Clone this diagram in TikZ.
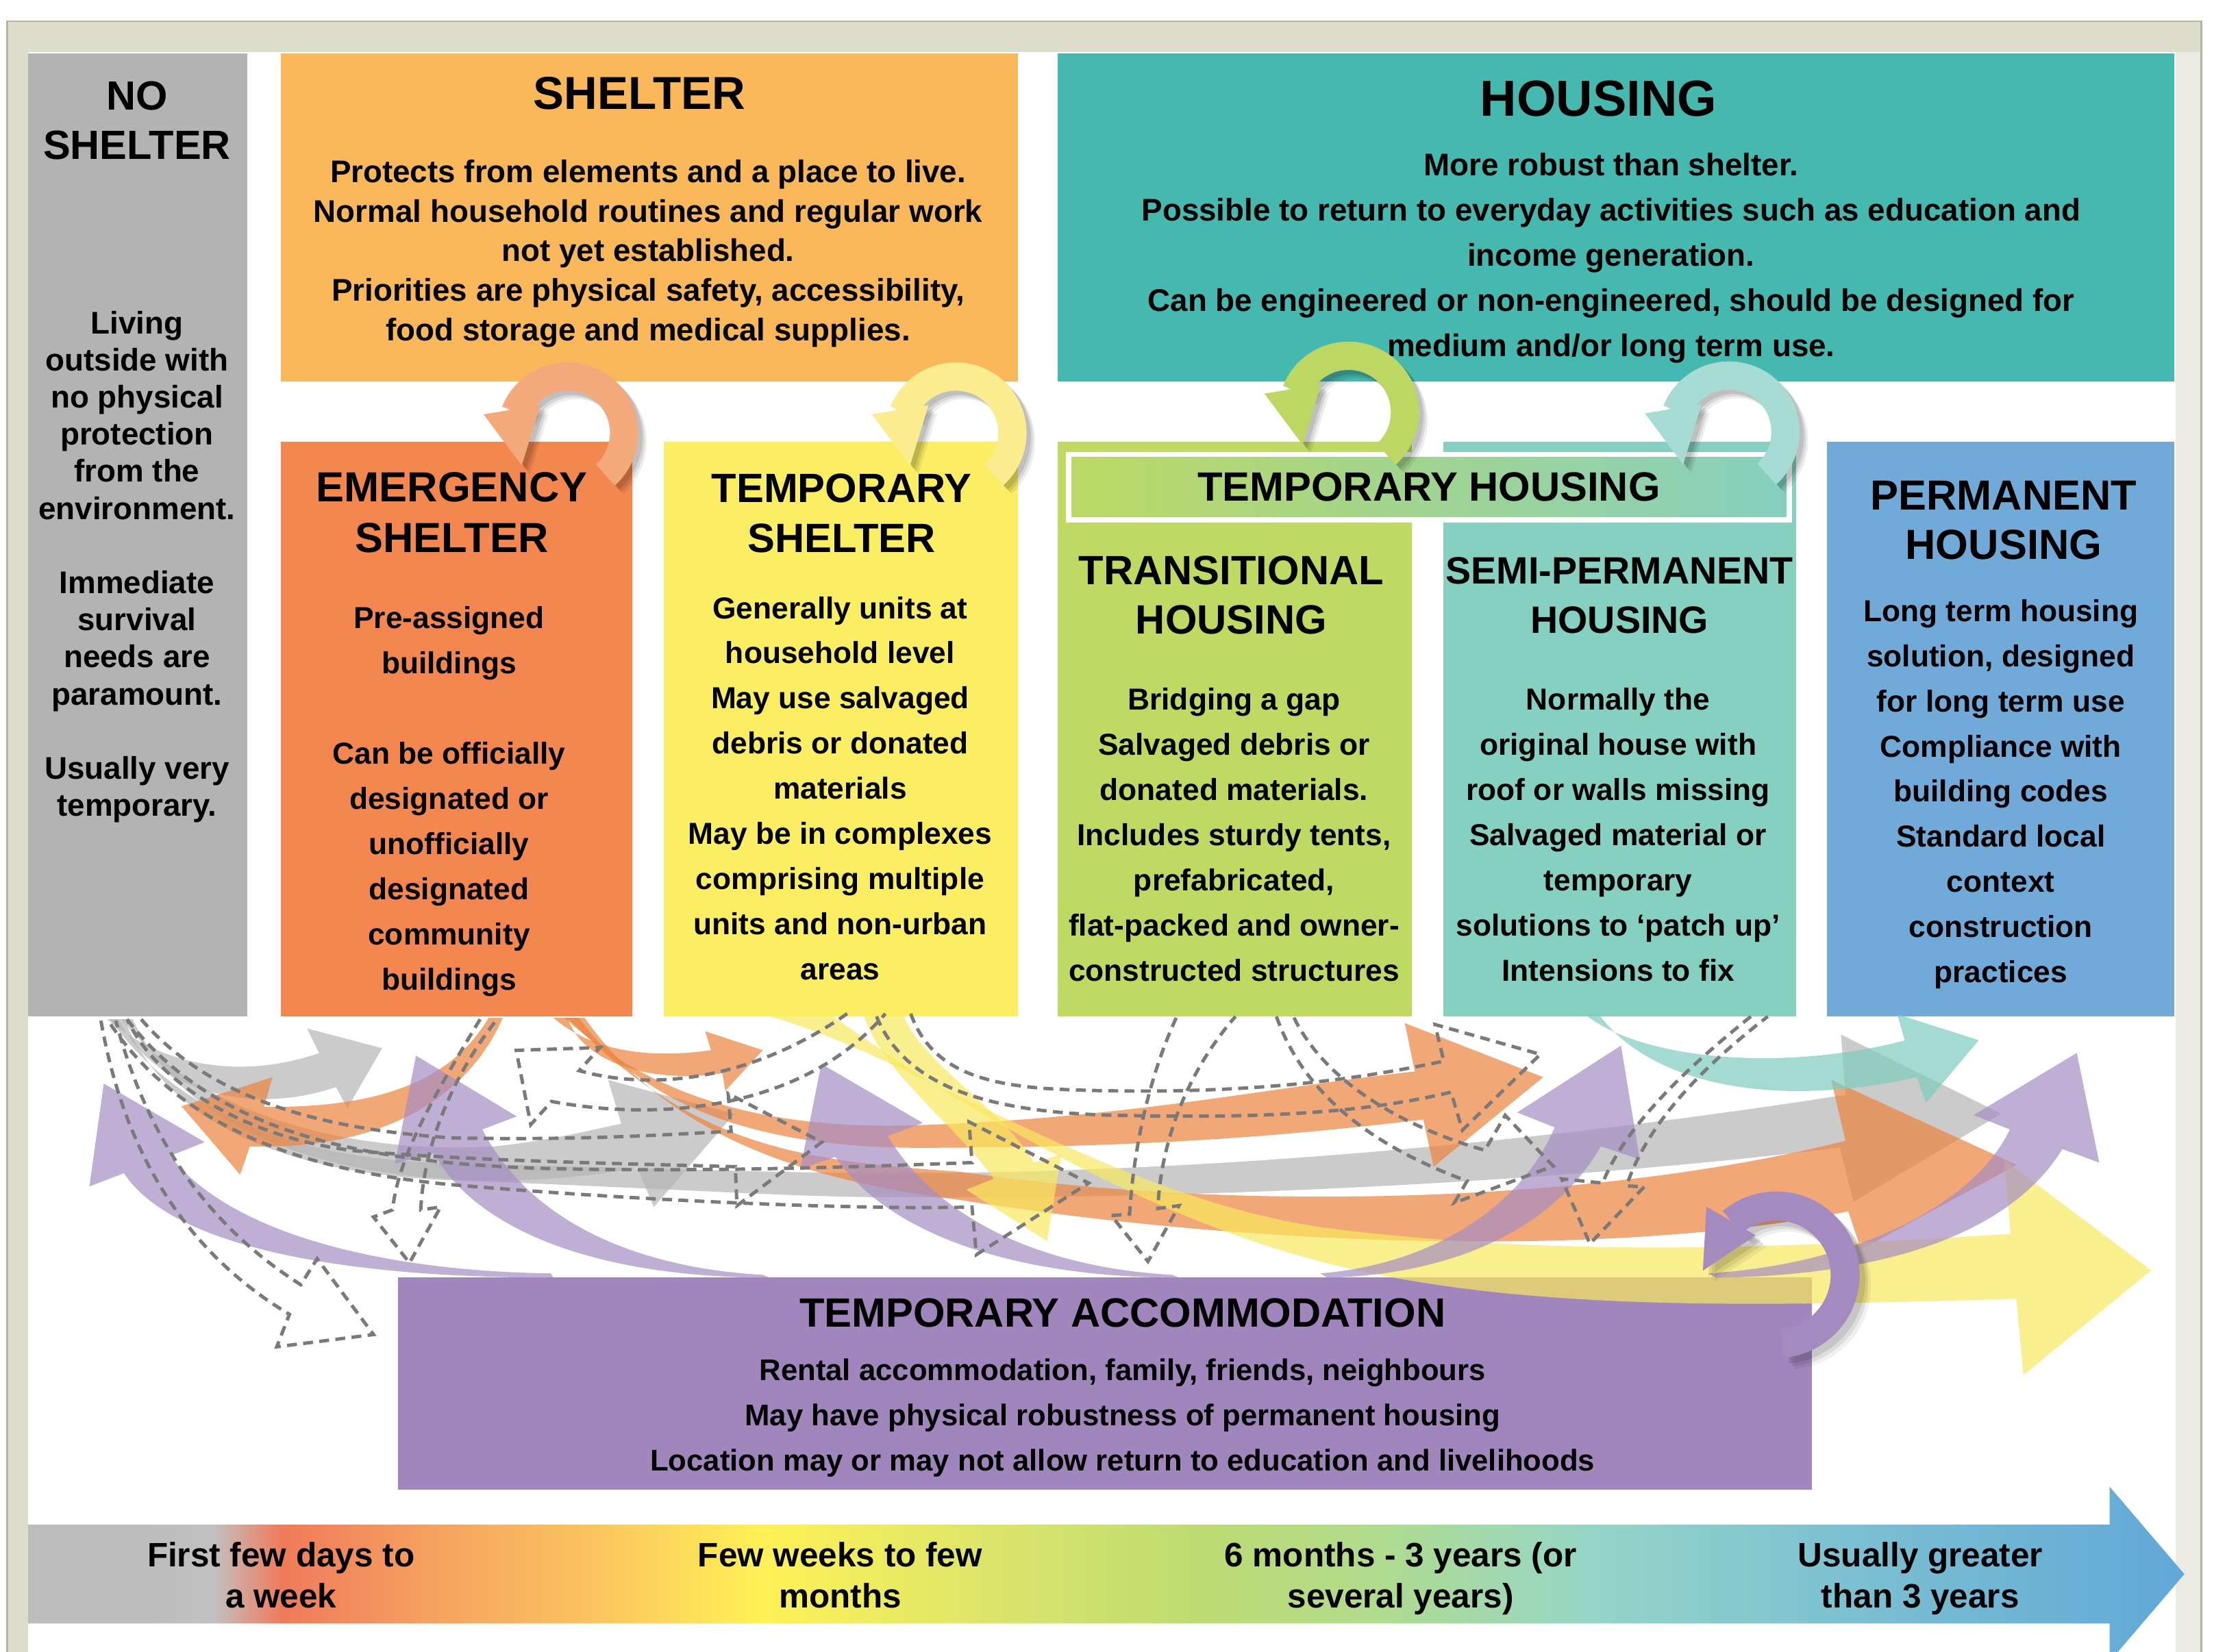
\documentclass[tikz,border=0pt]{standalone}
\usepackage{fontspec}
\setmainfont{Liberation Sans}
% box colours
\definecolor{nosh}{HTML}{B3B3B3}
\definecolor{shel}{HTML}{FAB85B}
\definecolor{hous}{HTML}{45B8AF}
\definecolor{emer}{HTML}{F4874F}
\definecolor{tshel}{HTML}{FBEE63}
\definecolor{trans}{HTML}{BEDA63}
\definecolor{semi}{HTML}{86D0C2}
\definecolor{perm}{HTML}{71A9D8}
\definecolor{tacc}{HTML}{A086BC}
\definecolor{thL}{HTML}{BBD964}
\definecolor{thR}{HTML}{86CFC0}
% frame
\definecolor{frameA}{HTML}{DCDDCB}
\definecolor{frameB}{HTML}{EBEBE4}
\definecolor{frameL}{HTML}{B4B7A0}
% transparent arrows
\definecolor{agray}{HTML}{B5B5B5}
\definecolor{aorange}{HTML}{EC833D}
\definecolor{apurple}{HTML}{A68EC4}
\definecolor{ayellow}{HTML}{F9E95F}
\definecolor{ateal}{HTML}{7DCDBF}
\definecolor{dgray}{HTML}{7A7A7A}
% loop arrows
\definecolor{lsalmon}{HTML}{F4A97B}
\definecolor{lyellow}{HTML}{FBEC8F}
\definecolor{lgreen}{HTML}{BDD862}
\definecolor{lteal}{HTML}{A6DCD4}
\definecolor{lpurple}{HTML}{A38BC0}
% time line
\definecolor{tlA}{HTML}{BDBDBD}
\definecolor{tlB}{HTML}{C2C0C0}
\definecolor{tlC}{HTML}{F07A5A}
\definecolor{tlD}{HTML}{F5A060}
\definecolor{tlE}{HTML}{FBC45F}
\definecolor{tlF}{HTML}{FFF155}
\definecolor{tlG}{HTML}{DCE56A}
\definecolor{tlH}{HTML}{BDDB72}
\definecolor{tlI}{HTML}{B0DC8F}
\definecolor{tlJ}{HTML}{94D5C8}
\definecolor{tlK}{HTML}{7EC1D1}
\definecolor{tlL}{HTML}{60A8D8}
\pgfdeclarehorizontalshading{timeline}{100bp}{color(0bp)=(tlA); color(25bp)=(tlA); color(27.6bp)=(tlA); color(29.3bp)=(tlB); color(30.9bp)=(tlC); color(34.2bp)=(tlD); color(38.1bp)=(tlE); color(42bp)=(tlF); color(47.3bp)=(tlG); color(52.2bp)=(tlH); color(56.4bp)=(tlI); color(61.3bp)=(tlJ); color(66.9bp)=(tlK); color(75bp)=(tlL); color(100bp)=(tlL)}

\tikzset{
  body/.style={inner sep=0pt, anchor=north, align=center, font=\bfseries\fontsize{21.5}{32}\selectfont},
  topbody/.style={body, font=\bfseries\fontsize{22.2}{32}\selectfont},
  head/.style={inner sep=0pt, anchor=north, align=center, font=\bfseries\fontsize{29}{35}\selectfont},
  ga/.style={fill=agray, fill opacity=0.7},
  oa/.style={fill=aorange, fill opacity=0.7},
  pa/.style={fill=apurple, fill opacity=0.7},
  ya/.style={fill=ayellow, fill opacity=0.7},
  ta/.style={fill=ateal, fill opacity=0.7},
  dsh/.style={draw=dgray, line width=2.4pt, dash pattern=on 7pt off 4.5pt},
}

% circular arrow looping from a lower box back into the box above
\newcommand\toploop[2]{%
  \begin{scope}[shift={#1}, yscale=-1]
    \foreach \sh/\op in {6/0.07,4.5/0.09,3/0.11}{%
      \fill[black, opacity=\op, shift={(\sh,-\sh)}] (-48:30) arc[start angle=-48, end angle=158, radius=30] -- (158:50) arc[start angle=158, end angle=-48, radius=50] -- cycle;
      \fill[black, opacity=\op, shift={(\sh,-\sh)}] (-59.5,13.2) -- (-32.5,-23) -- (-19.4,19.7) -- cycle;
    }
    \fill[#2] (-48:30) arc[start angle=-48, end angle=158, radius=30] -- (158:50) arc[start angle=158, end angle=-48, radius=50] -- cycle;
    \fill[#2] (-59.5,13.2) -- (-32.5,-23) -- (-19.4,19.7) -- cycle;
  \end{scope}}

\begin{document}
\begin{tikzpicture}[x=1pt, y=-1pt]
\useasboundingbox (0,0) rectangle (1568,1170);
\clip (0,0) rectangle (1568,1170);
\fill[white] (0,0) rectangle (1568,1170);

% outer frame
\fill[frameA] (5,15) rectangle (1559,1180);
\fill[frameB] (1541,37) rectangle (1559,1180);
\draw[frameL, line width=1.2pt] (5,1180) -- (5,15) -- (1559,15) -- (1559,1180);
\fill[white] (20,37) rectangle (1541,1180);

% category boxes
\fill[nosh] (20,38) rectangle (175,720);
\fill[shel] (199,38) rectangle (721,270);
\fill[hous] (749,38) rectangle (1540,270);
\fill[emer] (199,313) rectangle (448,720);
\fill[tshel] (470,313) rectangle (721,720);
\fill[trans] (749,313) rectangle (1000,720);
\fill[semi] (1022,313) rectangle (1272,720);
\fill[perm] (1294,313) rectangle (1540,720);
\fill[white] (755,320) rectangle (1269,370);
\shade[left color=thL, right color=thR] (759,324) rectangle (1265,366);
\fill[tacc] (282,905) rectangle (1283,1055);

% texts of the boxes
\node[head, font=\bfseries\fontsize{28.9}{35}\selectfont] (nsT) at (97,57.6) {NO\\SHELTER};
\node[body, font=\bfseries\fontsize{22.2}{26.3}\selectfont] (nsB) at (97,220)
  {Living\\outside with\\no physical\\protection\\from the\\environment.\\[26.3pt]Immediate\\survival\\needs are\\paramount.\\[26.3pt]Usually very\\temporary.};
\node[head, font=\bfseries\fontsize{32.7}{38}\selectfont] (shT) at (453,54.2) {SHELTER};
\node[body, font=\bfseries\fontsize{22.2}{28}\selectfont] (shB) at (459,113)
  {Protects from elements and a place to live.\\Normal household routines and regular work\\not yet established.\\Priorities are physical safety, accessibility,\\food storage and medical supplies.};
\node[head, font=\bfseries\fontsize{35.9}{40}\selectfont] (hoT) at (1132,57.1) {HOUSING};
\node[topbody] (hoB) at (1141,108)
  {More robust than shelter.\\Possible to return to everyday activities such as education and\\income generation.\\Can be engineered or non-engineered, should be designed for\\medium and/or long term use.};
\node[head, font=\bfseries\fontsize{29.8}{36}\selectfont] (emT) at (320,334.3) {EMERGENCY\\SHELTER};
\node[body] (emB) at (318,429.3)
  {Pre-assigned\\buildings\\[32pt]Can be officially\\designated or\\unofficially\\designated\\community\\buildings};
\node[head] (tsT) at (596,335.6) {TEMPORARY\\SHELTER};
\node[body] (tsB) at (595,422.3)
  {Generally units at\\household level\\May use salvaged\\debris or donated\\materials\\May be in complexes\\comprising multiple\\units and non-urban\\areas};
\node[head] (thT) at (1012,334.6) {TEMPORARY HOUSING};
\node[head] (trT) at (872,393.6) {TRANSITIONAL\\HOUSING};
\node[body] (trB) at (874,487.3)
  {Bridging a gap\\Salvaged debris or\\donated materials.\\Includes sturdy tents,\\prefabricated,\\flat-packed and owner-\\constructed structures};
\node[head, font=\bfseries\fontsize{27}{35}\selectfont] (spT) at (1147,394.3) {SEMI-PERMANENT\\HOUSING};
\node[body] (spB) at (1146,487.3)
  {Normally the\\original house with\\roof or walls missing\\Salvaged material or\\temporary\\solutions to ‘patch up’\\Intensions to fix};
\node[head, font=\bfseries\fontsize{29.8}{35}\selectfont] (pmT) at (1419,340.3) {PERMANENT\\HOUSING};
\node[body] (pmB) at (1417,424.3)
  {Long term housing\\solution, designed\\for long term use\\Compliance with\\building codes\\Standard local\\context\\construction\\practices};

% loops back into the box above
\toploop{(402,306.7)}{lsalmon}
\toploop{(677,306.7)}{lyellow}
\toploop{(955,292)}{lgreen}
\toploop{(1224.5,306)}{lteal}

% transparent transition arrows
\fill[ga] (76,722) .. controls (115,755) and (170,765) .. (226,746) -- (217.5,728.5) -- (270.6,742.5) -- (246,785) -- (238,770) .. controls (180,790) and (110,775) .. (84,722) -- cycle;
\fill[ga] (86,722) .. controls (140,790) and (250,818) .. (350,812) .. controls (390,808) and (420,800) .. (440,796) -- (430.7,765) -- (520,789) -- (463,855) -- (451.4,827) .. controls (420,833) and (390,836) .. (350,836) .. controls (230,836) and (130,800) .. (94,722) -- cycle;
\fill[ga] (78,722) .. controls (130,795) and (220,822) .. (320,824) .. controls (480,828) and (560,831) .. (630,831) .. controls (900,831) and (1150,800) .. (1307,775.5) -- (1303.8,732.8) -- (1417.3,788.9) -- (1312.6,851.3) -- (1303,812.9) .. controls (1150,832) and (900,850) .. (630,848) .. controls (560,848) and (480,842) .. (320,836) .. controls (210,832) and (120,800) .. (88,722) -- cycle;

\fill[oa] (346,721) .. controls (320,765) and (270,785) .. (187,784) -- (193,763) -- (128.6,783.6) -- (170,832) -- (177,812) .. controls (280,815) and (335,770) .. (356,721) -- cycle;
\fill[oa] (392,721) .. controls (420,745) and (460,750) .. (503.5,743.9) -- (499.4,730.5) -- (540.2,743.9) -- (513.7,772.6) -- (511.6,760.2) .. controls (460,768) and (412,752) .. (402,721) -- cycle;
\fill[oa] (400,721) .. controls (470,785) and (560,800) .. (650,797) .. controls (800,792) and (900,770) .. (1002,759) -- (994.9,724.7) -- (1092.9,763) -- (1015.3,826.4) -- (1008,793) .. controls (900,806) and (800,813) .. (650,813) .. controls (550,813) and (460,790) .. (410,721) -- cycle;
\fill[oa] (402,721) .. controls (490,810) and (560,822) .. (680,830) .. controls (900,862) and (1150,848) .. (1307,808) -- (1296.8,764.8) -- (1428.2,825.1) -- (1318,885) -- (1309,858) .. controls (1150,890) and (900,885) .. (680,850) .. controls (560,835) and (470,800) .. (414,721) -- cycle;

\fill[ya] (545,720) .. controls (640,745) and (790,850) .. (941,870) .. controls (1100,890) and (1250,885) .. (1424,874) -- (1419.3,821.6) -- (1523.4,899.8) -- (1433,974) -- (1428,920) .. controls (1250,925) and (1080,930) .. (941,895) .. controls (800,860) and (660,770) .. (590,720) -- cycle;
\fill[ya] (612,720) .. controls (625,760) and (680,800) .. (703.7,835) -- (684.3,842.7) -- (741.5,879.1) -- (751.7,817.7) -- (732.3,823.5) .. controls (710,785) and (655,755) .. (640,720) -- cycle;

\fill[ta] (1122,718) .. controls (1160,750) and (1260,760) .. (1349,737) -- (1343.6,718.4) -- (1401.4,736.8) -- (1364,781.3) -- (1357.5,763) .. controls (1260,785) and (1170,770) .. (1132,718) -- cycle;

\fill[pa] (390,902) .. controls (260,900) and (160,870) .. (120.5,818.7) -- (145,809) -- (73.5,767.5) -- (63.3,840.4) -- (87.8,831) .. controls (120,880) and (230,905) .. (392,905) -- cycle;
\fill[pa] (540,903) .. controls (450,898) and (375,865) .. (341.6,800) -- (366,790.8) -- (294.6,747.7) -- (279.7,824.2) -- (307,816.8) .. controls (340,875) and (430,905) .. (545,905) -- cycle;
\fill[pa] (830,903) .. controls (740,898) and (665,865) .. (628.7,804.7) -- (653.5,795.4) -- (581.7,753.6) -- (566.8,827.9) -- (591.6,819.5) .. controls (630,875) and (720,905) .. (835,905) -- cycle;
\fill[pa] (935,902) .. controls (1020,895) and (1080,850) .. (1101,798.5) -- (1074.5,788) -- (1148,740.6) -- (1161.3,821.2) -- (1133.8,812) .. controls (1100,870) and (1030,903) .. (940,905) -- cycle;
\fill[pa] (1210,902) .. controls (1320,895) and (1400,850) .. (1423.4,800) -- (1397.7,789.9) -- (1470.8,745.8) -- (1486.7,823.5) -- (1460.6,813.9) .. controls (1420,880) and (1320,904) .. (1215,905) -- cycle;

% dashed outline arrows
\draw[dsh] (71.5,723) .. controls (85,800) and (120,880) .. (205,931) -- (196,954) -- (264.5,945.3) -- (224.6,891.6) -- (213,910) .. controls (150,870) and (105,810) .. (82,723);
\draw[dsh] (340,722) .. controls (305,780) and (282,820) .. (278,857) -- (264.5,862) -- (290,894.5) -- (312,855) -- (298,857) .. controls (300,810) and (322,760) .. (352,722);
\draw[dsh] (600,718) .. controls (540,760) and (470,775) .. (410.2,758.4) -- (424.9,742) -- (365.6,744) -- (375.9,796.6) -- (390.6,780.2) .. controls (470,795) and (570,785) .. (627,718);
\draw[dsh] (100,722) .. controls (150,780) and (230,800) .. (320,806) .. controls (420,808) and (480,803) .. (517.8,801.4) -- (515.7,774.6) -- (582,809) -- (521.9,854) -- (520.8,826.4) .. controls (430,824) and (330,822) .. (250,815) .. controls (170,805) and (110,765) .. (90,722);
\draw[dsh] (645,718) .. controls (660,760) and (700,770) .. (760,772) .. controls (880,776) and (960,765) .. (1022.5,751.6) -- (1016.3,725.7) -- (1090.9,746.8) -- (1035.7,800.5) -- (1027.6,773.6) .. controls (960,790) and (880,792) .. (790,790) .. controls (700,788) and (640,770) .. (620,718);
\draw[dsh] (833,721) .. controls (815,760) and (803,810) .. (800,860) -- (787,861) -- (813,893.5) -- (835,854) -- (820,856) .. controls (822,810) and (840,760) .. (875,720);
\draw[dsh] (904,720) .. controls (925,780) and (980,815) .. (1039,836.5) -- (1030,852) -- (1100,826) -- (1066,790) -- (1051.6,814.8) .. controls (1000,800) and (940,770) .. (916,720);
\draw[dsh] (90,722) .. controls (150,800) and (250,825) .. (400,828) .. controls (520,830) and (620,826) .. (688.4,823.5) -- (686.3,794.7) -- (771,838) -- (691.5,888.7) -- (688.4,855) .. controls (600,857) and (450,850) .. (330,840) .. controls (200,830) and (120,790) .. (76,722);
\draw[dsh] (1240,720) .. controls (1190,760) and (1150,800) .. (1135,838) -- (1106,835) -- (1126,881) -- (1164.4,840.7) -- (1152,840) .. controls (1165,800) and (1200,760) .. (1252,720);

% loop on the temporary accommodation box
\begin{scope}[shift={(1258,903)}, yscale=-1]
  \foreach \sh/\op in {8/0.06,6/0.08,4/0.1}{%
    \fill[black, opacity=\op, shift={(\sh,-\sh)}] (-85:38.5) arc[start angle=-85, end angle=130, radius=38.5] -- (130:59) arc[start angle=130, end angle=-85, radius=59] -- cycle;
    \fill[black, opacity=\op, shift={(\sh,-\sh)}] (-49.5,48.2) -- (-52,3) -- (-14.6,28) -- cycle;
  }
  \fill[lpurple] (-85:38.5) arc[start angle=-85, end angle=130, radius=38.5] -- (130:59) arc[start angle=130, end angle=-85, radius=59] -- cycle;
  \fill[lpurple] (-49.5,48.2) -- (-52,3) -- (-14.6,28) -- cycle;
\end{scope}

\node[head] (taT) at (795,919.6) {TEMPORARY ACCOMMODATION};
\node[body, font=\bfseries\fontsize{21.2}{32}\selectfont] (taB) at (795,962.4)
  {Rental accommodation, family, friends, neighbours\\May have physical robustness of permanent housing\\Location may or may not allow return to education and livelihoods};

% time line
\shade[shading=timeline] (20,1080) -- (1494,1080) -- (1494,1053) -- (1547,1115) -- (1494,1177) -- (1494,1150) -- (20,1150) -- cycle;
\node[body, font=\bfseries\fontsize{24}{29}\selectfont] (tl1) at (199,1092.4) {First few days to\\a week};
\node[body, font=\bfseries\fontsize{24}{29}\selectfont] (tl2) at (595,1092.4) {Few weeks to few\\months};
\node[body, font=\bfseries\fontsize{24}{29}\selectfont] (tl3) at (992,1092.4) {6 months - 3 years (or\\several years)};
\node[body, font=\bfseries\fontsize{24}{29}\selectfont] (tl4) at (1360,1092.4) {Usually greater\\than 3 years};
\end{tikzpicture}
\end{document}
